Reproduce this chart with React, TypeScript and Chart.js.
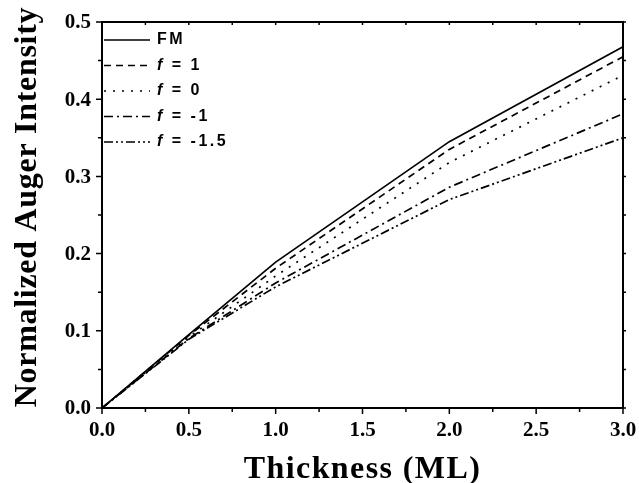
import React, { useEffect, useRef } from "react";
import { Chart, registerables } from "chart.js";

Chart.register(...registerables);

const thickness = [0, 0.5, 1, 2, 3];
const seriesFM = [0, 0.095, 0.189, 0.345, 0.468];
const seriesF1 = [0, 0.094, 0.181, 0.335, 0.455];
const seriesF0 = [0, 0.092, 0.171, 0.318, 0.431];
const seriesFm1 = [0, 0.09, 0.162, 0.286, 0.381];
const seriesFm15 = [0, 0.089, 0.157, 0.27, 0.35];

const seriesLabels = ["FM", "1", "0", "-1", "-1.5"];
const xTickLabels = ["0.0", "0.5", "1.0", "1.5", "2.0", "2.5", "3.0"];
const yTickLabels = ["0.0", "0.1", "0.2", "0.3", "0.4", "0.5"];
const xMinorTicks = [0.25, 0.75, 1.25, 1.75, 2.25, 2.75];
const yMinorTicks = [0.05, 0.15, 0.25, 0.35, 0.45];
const xTitle = "Thickness (ML)";
const yTitle = "Normalized Auger Intensity";

const dashes: number[][] = [[], [7, 5], [2, 7], [9, 4, 2, 4], [9, 3, 2, 3, 2, 3]];

const toPts = (arr: number[]) => arr.map((v, i) => ({ x: thickness[i], y: v }));

const framePlugin = {
  id: "frame",
  afterDraw(chart: any) {
    const { ctx, chartArea: a, scales } = chart;
    const x = scales.x;
    const y = scales.y;
    ctx.save();
    ctx.strokeStyle = "#000";
    ctx.fillStyle = "#000";
    ctx.setLineDash([]);
    ctx.lineWidth = 2;
    ctx.strokeRect(a.left, a.top, a.right - a.left, a.bottom - a.top);

    ctx.lineWidth = 1.5;
    const xMajors = xTickLabels.map((t) => parseFloat(t));
    const yMajors = yTickLabels.map((t) => parseFloat(t));
    ctx.beginPath();
    [...xMajors, ...xMinorTicks].forEach((v) => {
      const px = x.getPixelForValue(v);
      const major = xMajors.includes(v);
      ctx.moveTo(px, a.bottom);
      ctx.lineTo(px, a.bottom + (major ? 6 : 4));
      ctx.moveTo(px, a.top);
      ctx.lineTo(px, a.top + 3);
    });
    [...yMajors, ...yMinorTicks].forEach((v) => {
      const py = y.getPixelForValue(v);
      const major = yMajors.includes(v);
      ctx.moveTo(a.left, py);
      ctx.lineTo(a.left - (major ? 6 : 4), py);
      ctx.moveTo(a.right, py);
      ctx.lineTo(a.right + 3, py);
    });
    ctx.stroke();

    ctx.font = "bold 21px 'Liberation Serif', serif";
    ctx.textAlign = "center";
    ctx.textBaseline = "middle";
    xTickLabels.forEach((t) => {
      ctx.fillText(t, x.getPixelForValue(parseFloat(t)), a.bottom + 23);
    });
    ctx.textAlign = "right";
    yTickLabels.forEach((t) => {
      ctx.fillText(t, a.left - 11, y.getPixelForValue(parseFloat(t)) + 1);
    });

    ctx.font = "bold 32px 'Liberation Serif', serif";
    (ctx as any).letterSpacing = "1.4px";
    ctx.textAlign = "center";
    ctx.textBaseline = "alphabetic";
    ctx.fillText(xTitle, (a.left + a.right) / 2, 478);
    ctx.save();
    ctx.translate(36, 207);
    ctx.rotate(-Math.PI / 2);
    (ctx as any).letterSpacing = "0.7px";
    ctx.fillText(yTitle, 0, 0);
    ctx.restore();
    (ctx as any).letterSpacing = "0px";

    // legend
    const rowY0 = 40;
    const rowGap = 25.5;
    seriesLabels.forEach((lab, i) => {
      const ry = rowY0 + i * rowGap;
      ctx.lineWidth = 1.7;
      ctx.setLineDash(dashes[i]);
      ctx.beginPath();
      ctx.moveTo(a.left + 2, ry);
      ctx.lineTo(a.left + 48, ry);
      ctx.stroke();
      ctx.setLineDash([]);
      ctx.textAlign = "left";
      ctx.textBaseline = "middle";
      (ctx as any).letterSpacing = "2.5px";
      let tx = a.left + 55;
      if (i === 0) {
        ctx.font = "bold 16px 'Liberation Sans', sans-serif";
        ctx.fillText(lab, tx, ry);
      } else {
        ctx.font = "italic bold 16px 'Liberation Sans', sans-serif";
        ctx.fillText("f", tx, ry);
        tx += ctx.measureText("f").width;
        ctx.font = "bold 16px 'Liberation Sans', sans-serif";
        ctx.fillText(" = " + lab, tx, ry);
      }
      (ctx as any).letterSpacing = "0px";
    });
    ctx.restore();
  },
};

export default function App() {
  const ref = useRef<HTMLCanvasElement | null>(null);
  useEffect(() => {
    if (!ref.current) return;
    const all = [seriesFM, seriesF1, seriesF0, seriesFm1, seriesFm15];
    const chart = new Chart(ref.current, {
      type: "line",
      data: {
        datasets: all.map((s, i) => ({
          label: seriesLabels[i],
          data: toPts(s),
          borderColor: "#000",
          borderWidth: 1.7,
          borderDash: dashes[i],
          pointRadius: 0,
          fill: false,
          tension: 0,
        })),
      },
      options: {
        responsive: false,
        animation: false,
        devicePixelRatio: 1,
        layout: { padding: { left: 102, right: 16, top: 22, bottom: 75 } },
        plugins: { legend: { display: false }, tooltip: { enabled: false } },
        scales: {
          x: { type: "linear", min: 0, max: 3, display: false },
          y: { type: "linear", min: 0, max: 0.5, display: false },
        },
      },
      plugins: [framePlugin],
    });
    return () => chart.destroy();
  }, []);
  return (
    <div style={{ position: "absolute", left: 0, top: 0, width: 639, height: 483, background: "#fff" }}>
      <canvas ref={ref} width={639} height={483} style={{ width: 639, height: 483 }} />
    </div>
  );
}
